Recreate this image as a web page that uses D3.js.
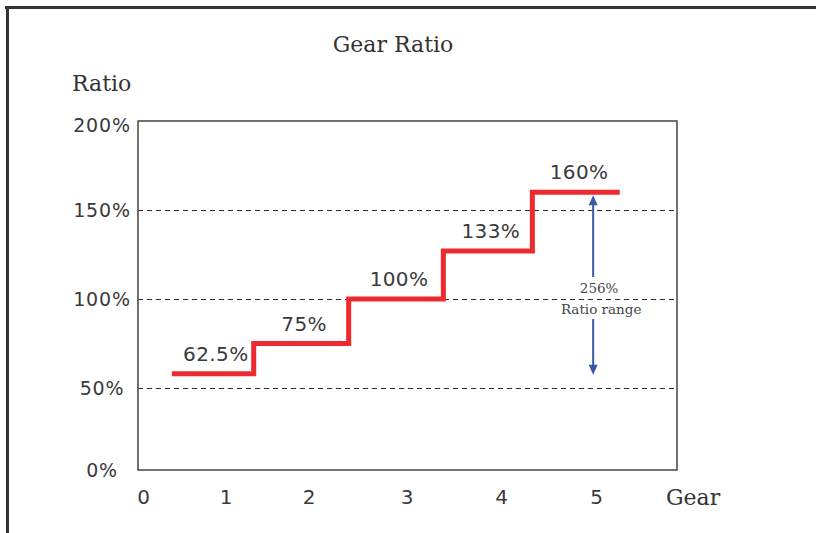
<!DOCTYPE html>
<html>
<head>
<meta charset="utf-8">
<script src="https://cdn.jsdelivr.net/npm/d3@7"></script>
<style>
  html, body { margin: 0; padding: 0; background: #fff; }
  svg { display: block; }
  .serif { font-family: "DejaVu Serif", "Liberation Serif", serif; fill: #333; }
  .num { font-family: "DejaVu Sans", "Liberation Sans", sans-serif; fill: #3a3a3a; }
</style>
</head>
<body>
<svg id="chart" width="816" height="533"></svg>
<script>
// ---- data ----
const gears = [0, 1, 2, 3, 4, 5];
const gearTickLabels = ["0", "1", "2", "3", "4", "5"];
const ratioTicks = [0, 50, 100, 150, 200];
const ratioTickLabels = ["0%", "50%", "100%", "150%", "200%"];
const gridRatios = [50, 100, 150];
// gear-axis boundaries of each step (start of each step, plus end of last)
const stepBounds = [0.35, 1.34, 2.41, 3.39, 4.33, 5.25];
// drawn heights of the steps (percent) and their printed labels
const stepValues = [58, 75, 100, 127, 160];
const stepLabels = ["62.5%", "75%", "100%", "133%", "160%"];
const rangeLabel = ["256%", "Ratio range"];
const rangeGear = 4.97;

// ---- layout ----
const svg = d3.select("#chart");
const W = 816, H = 533;

// outer frame (top and left lines)
svg.append("line").attr("x1", 5).attr("x2", W).attr("y1", 7.5).attr("y2", 7.5)
  .attr("stroke", "#333").attr("stroke-width", 3);
svg.append("line").attr("x1", 7.5).attr("x2", 7.5).attr("y1", 6).attr("y2", H)
  .attr("stroke", "#333").attr("stroke-width", 3);

const plot = { left: 138, right: 677, top: 121, bottom: 470 };

const x = d3.scaleLinear()
  .domain(gears)
  .range([143, 225.5, 308.5, 406.5, 501, 596]);

const y = d3.scaleLinear()
  .domain([0, 50, 200])
  .range([plot.bottom, 388, plot.top]);

// title
svg.append("text").attr("class", "serif")
  .attr("x", 393).attr("y", 52).attr("text-anchor", "middle")
  .style("font-size", "22px").text("Gear Ratio");

// y title
svg.append("text").attr("class", "serif")
  .attr("x", 72).attr("y", 91)
  .style("font-size", "22px").text("Ratio");

// gridlines
svg.append("g").selectAll("line").data(gridRatios).join("line")
  .attr("x1", plot.left).attr("x2", plot.right)
  .attr("y1", d => Math.round(y(d)) + 0.5).attr("y2", d => Math.round(y(d)) + 0.5)
  .attr("stroke", "#2a2a2a").attr("stroke-width", 1.2)
  .attr("stroke-dasharray", "5,4");

// plot frame
svg.append("rect")
  .attr("x", plot.left).attr("y", plot.top)
  .attr("width", plot.right - plot.left).attr("height", plot.bottom - plot.top)
  .attr("fill", "none").attr("stroke", "#444").attr("stroke-width", 1.5);

// y axis labels
const yAxis = d3.axisLeft(y).tickValues(ratioTicks)
  .tickFormat((d, i) => ratioTickLabels[i]).tickSize(0).tickPadding(0);
const yg = svg.append("g").attr("transform", `translate(${plot.left},0)`).call(yAxis);
yg.select(".domain").remove();
yg.selectAll("text")
  .attr("class", "num")
  .attr("x", -36)
  .attr("text-anchor", "middle")
  .style("font-size", "19px")
  .style("letter-spacing", "0.8px")
  .attr("font-family", null);
yg.selectAll(".tick").filter(d => d === 200).select("text").attr("dy", "0.55em");

// x axis labels
const xAxis = d3.axisBottom(x).tickValues(gears)
  .tickFormat((d, i) => gearTickLabels[i]).tickSize(0).tickPadding(0);
const xg = svg.append("g").attr("transform", `translate(0,${plot.bottom})`).call(xAxis);
xg.select(".domain").remove();
xg.selectAll("text")
  .attr("class", "num")
  .attr("y", 34).attr("dy", 0)
  .style("font-size", "20px")
  .attr("font-family", null);

// x title
svg.append("text").attr("class", "serif")
  .attr("x", 666).attr("y", 505)
  .style("font-size", "22px").text("Gear");

// step line
const stepPts = stepBounds.map((b, i) => [b, stepValues[Math.min(i, stepValues.length - 1)]]);
const line = d3.line().x(d => x(d[0])).y(d => y(d[1])).curve(d3.curveStepAfter);
svg.append("path").datum(stepPts)
  .attr("d", line)
  .attr("fill", "none")
  .attr("stroke", "#ee2a31")
  .attr("stroke-width", 5)
  .attr("stroke-linejoin", "miter")
  .attr("stroke-linecap", "butt");

// step labels
svg.append("g").selectAll("text").data(stepLabels).join("text")
  .attr("class", "num")
  .attr("x", (d, i) => (x(stepBounds[i]) + x(stepBounds[i + 1])) / 2 + 3)
  .attr("y", (d, i) => y(stepValues[i]) - 13)
  .attr("text-anchor", "middle")
  .style("font-size", "20px")
  .style("letter-spacing", "0.4px")
  .text(d => d);

// range annotation arrow
const ax = x(rangeGear);
const topTip = y(stepValues[stepValues.length - 1]) + 3;
const botTip = y(stepValues[0]) + 1;
const mid = y(100);
const blue = "#3b57a6";
const ann = svg.append("g");
ann.append("line").attr("x1", ax).attr("x2", ax).attr("y1", topTip + 8).attr("y2", mid - 22)
  .attr("stroke", blue).attr("stroke-width", 2);
ann.append("line").attr("x1", ax).attr("x2", ax).attr("y1", mid + 20).attr("y2", botTip - 8)
  .attr("stroke", blue).attr("stroke-width", 2);
ann.append("path")
  .attr("d", `M${ax},${topTip} L${ax - 4.5},${topTip + 10} L${ax + 4.5},${topTip + 10} Z`)
  .attr("fill", blue);
ann.append("path")
  .attr("d", `M${ax},${botTip} L${ax - 4.5},${botTip - 10} L${ax + 4.5},${botTip - 10} Z`)
  .attr("fill", blue);
ann.append("text").attr("class", "serif")
  .attr("x", ax + 6).attr("y", mid - 6).attr("text-anchor", "middle")
  .style("font-size", "13.5px").style("fill", "#444").text(rangeLabel[0]);
ann.append("text").attr("class", "serif")
  .attr("x", ax + 8).attr("y", mid + 15).attr("text-anchor", "middle")
  .style("font-size", "13.5px").style("fill", "#444").text(rangeLabel[1]);
</script>
</body>
</html>
